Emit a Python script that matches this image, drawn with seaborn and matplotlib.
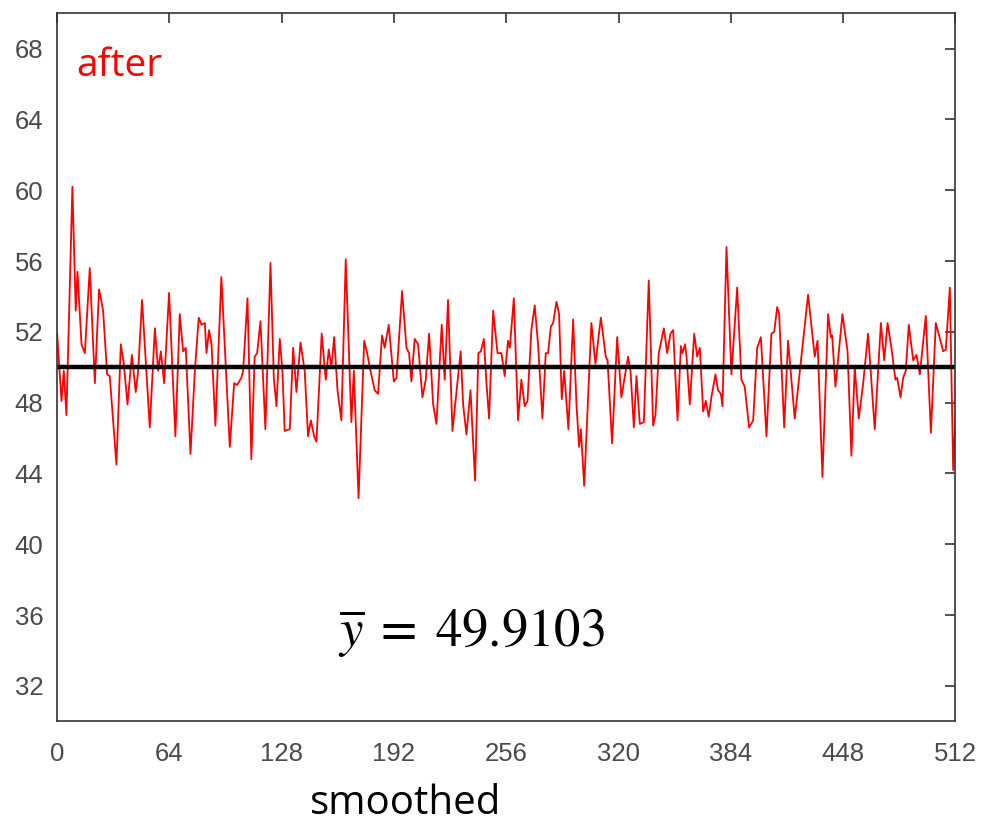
import numpy as np
import pandas as pd
import matplotlib
matplotlib.use("Agg")
import matplotlib.pyplot as plt
import seaborn as sns

# vertices of the smoothed signal (sample index, value)
sample_idx = [
    0, 2.5, 3.8, 5.3, 8.7, 10.6, 11.6, 13.9, 15.8, 18.6, 21.5, 23.9, 26.2, 28.5, 30.0,
    33.8, 36.3, 38.0, 40.1, 42.6, 44.8, 46.2, 48.4, 52.8, 55.7, 57.6, 59.1, 61.0, 63.8,
    67.4, 69.9, 71.8, 73.3, 76.0, 78.5, 80.7, 82.3, 84.2, 85.1, 86.6,
    88.0, 90.2, 93.6, 98.4, 100.9, 102.6, 105.0, 106.0, 108.5, 110.7, 112.6, 114.0,
    115.9, 118.7, 121.6, 123.5, 125.0, 126.9, 128.4, 129.7, 132.6, 134.5, 136.4, 138.7,
    141.1, 143.0, 144.6, 146.5, 147.8, 150.8, 153.1, 154.8, 156.3, 157.9, 159.8, 162.0,
    164.5, 167.7, 169.1, 171.8,
    175.0, 176.7, 178.6, 181.0, 182.9, 185.2, 186.7, 189.0, 191.9, 193.4, 196.6, 199.1,
    200.6, 201.9, 203.8, 205.7, 208.2, 210.1, 212.0, 214.3, 216.2, 219.2, 220.9, 222.8,
    225.3, 230.0, 231.4, 233.3, 235.6, 238.2, 240.1, 241.5, 243.2, 244.7, 246.2, 248.5,
    251.0, 253.2, 255.1,
    257.0, 258.0, 260.3, 262.7, 264.6, 266.5, 268.1, 270.3, 272.2, 274.1, 276.6, 278.5,
    279.8, 281.4, 282.7, 284.6, 286.1, 287.6, 289.0, 291.4, 294.1, 296.0, 297.5, 298.5,
    300.4, 304.5, 306.8, 309.9, 312.7, 313.7, 316.3, 319.2, 321.6, 325.4, 326.8, 328.7,
    330.2, 332.1, 334.4, 337.2, 339.7, 341.0,
    342.9, 345.8, 347.7, 349.6, 351.1, 353.6, 355.5, 356.4, 357.9, 358.7, 360.6, 363.1,
    364.8, 366.3, 368.2, 369.7, 371.4, 372.9, 375.2, 376.7, 378.3, 379.2, 381.5, 384.3,
    387.6, 390.0, 391.9, 394.4, 396.7, 399.0, 401.1, 404.3, 407.1, 408.7, 410.4, 411.5,
    414.4, 416.6, 420.4, 424.2,
    428.0, 431.8, 433.4, 436.2, 439.4, 441.0, 441.7, 443.6, 447.6, 450.5, 452.7, 454.6,
    456.9, 459.4, 462.2, 466.0, 469.5, 471.4, 473.3, 475.5, 477.8, 478.8, 480.7, 482.2,
    483.7, 485.4, 487.9, 489.8, 491.7, 495.1, 498.0, 500.8, 502.7, 505.0, 506.5, 508.8,
    510.7, 512.0,
]
smoothed = [
    51.9, 48.1, 49.8, 47.3, 60.2, 53.2, 55.4, 51.3, 50.8, 55.6, 49.1, 54.4, 53.2, 49.6, 49.5,
    44.5, 51.3, 50.2, 47.9, 50.7, 48.6, 49.8, 53.8, 46.6, 52.2, 49.8, 50.9, 49.1, 54.2,
    46.1, 53.0, 50.9, 51.1, 45.1, 49.8, 52.8, 52.4, 52.5, 50.8, 52.1,
    51.3, 46.7, 55.1, 45.5, 49.1, 49.0, 49.4, 49.8, 53.9, 44.8, 50.6, 50.8,
    52.6, 46.5, 55.9, 49.4, 47.8, 51.6, 49.8, 46.4, 46.5, 51.1, 48.6, 51.4,
    49.8, 46.1, 47.0, 46.1, 45.8, 51.9, 49.3, 51.0, 50.0, 51.7, 48.7, 47.0,
    56.1, 46.9, 49.8, 42.6,
    51.5, 50.8, 49.8, 48.7, 48.5, 51.8, 51.1, 52.4, 49.2, 49.4, 54.3, 51.1,
    50.8, 49.2, 51.6, 51.3, 48.3, 49.3, 51.9, 47.9, 46.8, 52.4, 49.3, 53.8,
    46.4, 50.9, 47.9, 46.2, 48.7, 43.6, 50.8, 50.9, 51.6, 49.1, 47.1, 53.2,
    50.8, 50.8, 49.5,
    51.5, 51.1, 53.9, 47.0, 49.3, 47.8, 48.1, 52.1, 53.5, 51.3, 47.1, 50.8,
    50.8, 52.3, 52.5, 53.7, 53.0, 48.2, 49.8, 46.5, 52.7, 47.9, 45.5, 46.5,
    43.3, 52.5, 50.2, 52.8, 50.6, 50.4, 45.7, 51.7, 48.3, 50.6, 49.8, 46.6,
    49.5, 46.8, 46.9, 54.9, 46.7, 47.3,
    50.8, 52.2, 50.8, 51.9, 52.1, 47.0, 51.2, 50.8, 51.3, 50.6, 47.9, 51.9,
    50.6, 51.1, 47.5, 48.1, 47.2, 48.3, 49.6, 48.7, 48.5, 47.8, 56.8, 49.6,
    54.5, 49.3, 48.9, 46.6, 47.0, 51.1, 51.7, 46.1, 51.9, 52.0, 53.4, 53.0,
    46.6, 51.5, 47.1, 50.6,
    54.1, 50.6, 51.5, 43.8, 53.0, 51.7, 51.8, 48.9, 53.0, 50.9, 45.0, 50.0,
    47.1, 49.1, 51.9, 46.5, 52.5, 50.4, 52.5, 51.1, 49.3, 49.4, 48.3, 49.4,
    49.8, 52.4, 50.4, 50.7, 49.6, 52.9, 46.3, 52.5, 51.8, 50.9, 51.0, 54.5,
    44.2, 47.2,
]
mean_level = 50.0
mean_label = r"$\overline{y}\;=\;49.9103$"
x_ticks = [0, 64, 128, 192, 256, 320, 384, 448, 512]
y_ticks = [32, 36, 40, 44, 48, 52, 56, 60, 64, 68]

df = pd.DataFrame({"n": sample_idx, "value": smoothed})

sns.set_style("white")
plt.rcParams["font.family"] = ["Liberation Sans", "DejaVu Sans"]
plt.rcParams["mathtext.fontset"] = "stix"

fig = plt.figure(figsize=(9.85, 8.3), dpi=100)
ax = fig.add_axes([0.058, 0.131, 0.912, 0.853])

sns.lineplot(data=df, x="n", y="value", color="red", linewidth=1.3, ax=ax,
             estimator=None, sort=False)
ax.axhline(mean_level, color="black", linewidth=3.2)

ax.set_xlim(0, 512)
ax.set_ylim(30, 70)
ax.set_xticks(x_ticks)
ax.set_yticks(y_ticks)
ax.set_xlabel("")
ax.set_ylabel("")

for s in ax.spines.values():
    s.set_color("#333333")
    s.set_linewidth(1.2)
ax.tick_params(axis="both", direction="in", length=7, width=1.2, color="#333333",
               labelcolor="#4a4a4a", labelsize=18.5, top=True, right=True)
ax.tick_params(axis="x", pad=15)
ax.tick_params(axis="y", pad=10)

ax.text(10.7, 66.45, "after", color="red", fontsize=28, family="Open Sans",
        ha="left", va="baseline")
ax.text(236, 34.95, mean_label, color="black", fontsize=38, ha="center", va="center")
fig.text(0.412, 0.032, "smoothed", color="black", fontsize=29, family="Open Sans",
         ha="center", va="center")

plt.savefig("out.png", dpi=100)
